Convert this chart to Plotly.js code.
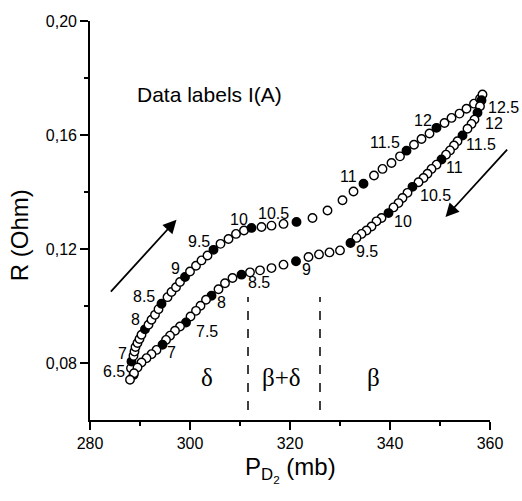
<!DOCTYPE html>
<html><head><meta charset="utf-8">
<script src="https://cdn.plot.ly/plotly-3.0.1.min.js"></script>
<style>html,body{margin:0;padding:0;background:#fff}#chart{width:522px;height:501px}</style>
</head><body><div id="chart"></div>
<script>
// Upper branch (absorption, current increasing)
const upP = [288.7,288.2,288.3,288.7,288.9,289.1,289.5,289.9,290.3,291.0,291.7,292.3,293.0,293.7,294.3,295.5,296.3,297.2,298.0,299.0,300.0,301.2,302.3,303.5,304.7,306.1,307.7,309.2,310.8,312.3,314.3,316.3,318.7,321.3,324.5,327.5,330.5,332.7,334.7,336.8,338.5,340.3,342.0,343.3,344.8,346.3,347.9,349.3,350.9,352.3,353.9,355.3,356.8,358.0,358.5];
const upR = [0.0758,0.0782,0.0805,0.0825,0.0840,0.0856,0.0870,0.0884,0.0899,0.0918,0.0934,0.0952,0.0969,0.0989,0.1008,0.1031,0.1049,0.1066,0.1084,0.1102,0.1121,0.1141,0.1160,0.1177,0.1197,0.1218,0.1235,0.1253,0.1265,0.1274,0.1277,0.1282,0.1288,0.1295,0.1309,0.1335,0.1371,0.1402,0.1429,0.1458,0.1481,0.1502,0.1525,0.1545,0.1566,0.1586,0.1605,0.1625,0.1642,0.1660,0.1675,0.1692,0.1710,0.1727,0.1742];
const upI = ['6.5',null,'7',null,null,null,null,null,null,'8',null,null,null,null,'8.5',null,null,null,null,'9',null,null,null,null,'9.5',null,null,null,null,'10',null,null,null,'10.5',null,null,null,null,'11',null,null,null,null,'11.5',null,null,null,'12',null,null,null,null,null,null,null];
// Lower branch (desorption, current decreasing)
const downP = [358.3,358.0,357.5,356.9,356.3,355.5,354.5,353.5,352.8,352.0,351.2,350.3,349.3,348.3,347.5,346.7,345.7,344.5,343.5,342.5,341.7,340.7,339.7,338.3,337.3,336.3,335.3,334.3,333.3,332.1,330.0,327.9,325.8,323.7,321.2,318.7,316.3,314.0,312.0,310.3,308.5,307.0,305.7,304.3,303.2,302.1,301.2,300.1,299.2,298.0,297.0,296.0,295.2,294.5,293.3,292.3,291.3,290.3,289.5,288.8,288.0];
const downR = [0.1722,0.1701,0.1678,0.1654,0.1639,0.1622,0.1598,0.1578,0.1563,0.1546,0.1531,0.1514,0.1496,0.1481,0.1464,0.1449,0.1434,0.1418,0.1397,0.1379,0.1361,0.1346,0.1326,0.1309,0.1297,0.1279,0.1265,0.1253,0.1239,0.1221,0.1195,0.1188,0.1181,0.1172,0.1157,0.1145,0.1133,0.1125,0.1118,0.1110,0.1098,0.1080,0.1059,0.1036,0.1022,0.1001,0.0983,0.0963,0.0942,0.0928,0.0913,0.0896,0.0881,0.0864,0.0846,0.0831,0.0817,0.0802,0.0784,0.0764,0.0741];
const downI = ['12.5',null,'12',null,null,null,'11.5',null,null,null,null,'11',null,null,null,null,null,'10.5',null,null,null,null,'10',null,null,null,null,null,null,'9.5',null,null,null,null,'9',null,null,null,null,'8.5',null,null,null,'8',null,null,null,null,'7.5',null,null,null,null,'7',null,null,null,null,null,null,null];

const xTicks = [280,300,320,340,360];
const yTicks = [0.08,0.12,0.16,0.20];
const phaseBounds = [311.6, 326.0];
const phaseNames = ['δ','β+δ','β'];
const phaseNameP = [303.4, 318.2, 336.6];
const phaseNameR = 0.0750;
const upArrow = {tipP:297.3, tipR:0.1303, tailP:283.9, tailR:0.1045};
const downArrow = {tipP:351.1, tipR:0.1312, tailP:363.7, tailR:0.1554};

// label offsets in pixels (dx right, dy down)
const upOff = {'6.5':[-20,-3],'7':[-9,-8],'8':[-10,-10],'8.5':[-18,-7],'9':[-10,-8],'9.5':[-15,-8],'10':[-13,-8],'10.5':[-23,-8],'11':[-15,-7],'11.5':[-22,-8],'12':[-14,-7]};
const downOff = {'12.5':[22,7],'12':[16,11],'11.5':[18,9],'11':[13,8],'10.5':[23,9],'10':[14,8],'9.5':[16,8],'9':[10,8],'8.5':[17,8],'8':[10,7],'7.5':[21,9],'7':[9,8]};

const sans = 'Liberation Sans, Arial, sans-serif';
const serif = 'Liberation Serif, Times New Roman, serif';

function branchTrace(P, R, I) {
  return {
    x: P, y: R, mode: 'markers', type: 'scatter', hoverinfo: 'skip', cliponaxis: false,
    marker: {size: 8.5, symbol: 'circle', color: I.map(v => v == null ? 'white' : 'black'),
             line: {color: 'black', width: 1.4}}
  };
}
const traces = [branchTrace(upP, upR, upI), branchTrace(downP, downR, downI)];

const annotations = [];
function addLabels(P, R, I, off) {
  I.forEach((v, k) => {
    if (v == null) return;
    const o = off[v] || [0, 0];
    annotations.push({x: P[k], y: R[k], xref: 'x', yref: 'y', text: v, showarrow: false,
      xshift: o[0], yshift: -o[1], font: {family: sans, size: 16, color: 'black'}});
  });
}
addLabels(upP, upR, upI, upOff);
addLabels(downP, downR, downI, downOff);

phaseNames.forEach((n, k) => annotations.push({x: phaseNameP[k], y: phaseNameR, xref: 'x', yref: 'y',
  text: n, showarrow: false, font: {family: serif, size: 25, color: 'black'}}));

annotations.push({x: 303.9, y: 0.1742, xref: 'x', yref: 'y', text: 'Data labels I(A)', showarrow: false,
  font: {family: sans, size: 21, color: 'black'}});

[upArrow, downArrow].forEach(a => annotations.push({x: a.tipP, y: a.tipR, ax: a.tailP, ay: a.tailR,
  xref: 'x', yref: 'y', axref: 'x', ayref: 'y', text: '', showarrow: true, arrowhead: 2,
  arrowsize: 1.5, arrowwidth: 1.8, arrowcolor: 'black'}));

// axis titles
annotations.push({x: 0.5, y: -0.125, xref: 'paper', yref: 'paper', text: 'P<sub>D<sub>2</sub></sub> (mb)',
  showarrow: false, xanchor: 'center', yanchor: 'middle', font: {family: sans, size: 24, color: 'black'}});
annotations.push({x: -0.176, y: 0.462, xref: 'paper', yref: 'paper', text: 'R (Ohm)', textangle: -90,
  showarrow: false, xanchor: 'center', yanchor: 'middle', font: {family: sans, size: 24, color: 'black'}});

const shapes = phaseBounds.map(b => ({type: 'line', xref: 'x', yref: 'y', x0: b, x1: b, y0: 0.0635, y1: 0.1032,
  line: {color: 'black', width: 1.5, dash: 'dash'}}));

const layout = {
  width: 522, height: 501,
  margin: {l: 90, r: 32, t: 21, b: 81, pad: 0},
  paper_bgcolor: 'white', plot_bgcolor: 'white',
  showlegend: false,
  separators: ',.',
  font: {family: sans, color: 'black'},
  xaxis: {range: [280, 360], tickvals: xTicks, ticktext: xTicks.map(String), ticks: 'outside', ticklen: 8,
    tickwidth: 1.5, tickcolor: 'black', showline: true, linecolor: 'black', linewidth: 1.8,
    showgrid: false, zeroline: false, tickfont: {family: sans, size: 16, color: 'black'},
    minor: {tickvals: [290, 310, 330, 350], ticks: 'outside', ticklen: 4, tickwidth: 1.5, tickcolor: 'black', showgrid: false}},
  yaxis: {range: [0.06, 0.20], tickvals: yTicks, tickformat: '.2f', ticks: 'outside', ticklen: 8,
    tickwidth: 1.5, tickcolor: 'black', showline: true, linecolor: 'black', linewidth: 1.8,
    showgrid: false, zeroline: false, tickfont: {family: sans, size: 16, color: 'black'},
    minor: {tickvals: [0.10, 0.14, 0.18], ticks: 'outside', ticklen: 4, tickwidth: 1.5, tickcolor: 'black', showgrid: false}},
  annotations: annotations,
  shapes: shapes
};
Plotly.newPlot('chart', traces, layout, {staticPlot: true});
</script>
</body></html>
